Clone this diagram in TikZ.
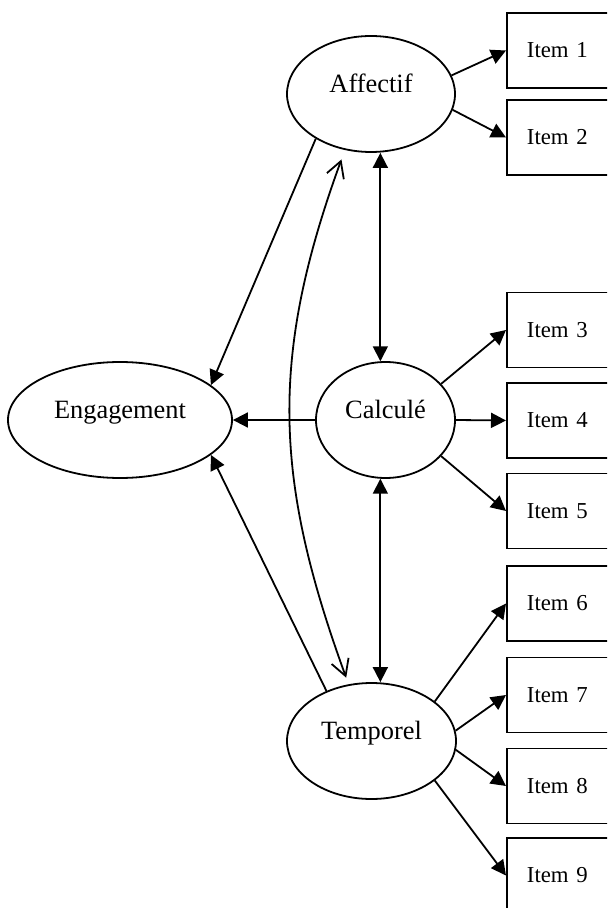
\documentclass[tikz,border=0pt]{standalone}
\usepackage{fontspec}
\setmainfont{Liberation Serif}
\usetikzlibrary{arrows.meta}
\usetikzlibrary{shapes.geometric}

\begin{document}
\begin{tikzpicture}[x=0.5pt,y=-0.5pt,line width=0.9pt,
  latent/.style={ellipse, draw, inner sep=0pt, minimum height=58pt,
    text height=9pt, text depth=10.5pt, font=\fontsize{13.2}{15}\selectfont},
  item/.style={rectangle, draw, anchor=west, minimum height=37.5pt,
    text width=40pt, inner xsep=10pt, align=left, font=\fontsize{11.4}{14}\selectfont},
  ->/.style={-{Triangle[length=7.5pt,width=7.5pt]}},
  both/.style={{Triangle[length=7.5pt,width=7.5pt]}-{Triangle[length=7.5pt,width=7.5pt]}},
  corr/.style={{Straight Barb[length=8pt,width=9pt]}-{Straight Barb[length=8pt,width=9pt]}}]
\useasboundingbox (0,0) rectangle (607,908);
\clip (0,0) rectangle (607,908);
\node[latent, minimum width=84pt] (aff) at (371,94){Affectif};
\node[latent, minimum width=69.5pt] (calc) at (385.5,420){Calculé};
\node[latent, minimum width=84.5pt] (temp) at (371.5,741){Temporel};
\node[latent, minimum width=112pt] (eng) at (120,420){Engagement};
\node[item] (i1) at (506,50.5){Item 1};
\node[item] (i2) at (506,137.5){Item 2};
\node[item] (i3) at (506,330){Item 3};
\node[item] (i4) at (506,420.5){Item 4};
\node[item] (i5) at (506,511){Item 5};
\node[item] (i6) at (506,603.5){Item 6};
\node[item] (i7) at (506,695){Item 7};
\node[item] (i8) at (506,786){Item 8};
\node[item] (i9) at (506,875.5){Item 9};
\draw[->] (aff.13)	--	(i1.west);
\draw[->] (aff.-11)	--	(i2.west);
\draw[->] (calc.33)	--	(i3.west);
\draw[->] (calc.east)	--	(i4.west);
\draw[->] (calc.-33)	--	(i5.west);
\draw[->] (temp.32)	--	(i6.west);
\draw[->] (temp.7)	--	(i7.west);
\draw[->] (temp.-6)	--	(i8.west);
\draw[->] (temp.-32)	--	(i9.west);
\draw[->] (aff.219)	--	(eng.21);
\draw[->] (calc.west)	--	(eng.east);
\draw[->] (temp.132)	--	(eng.-21);
\draw[both] (calc.95)	--	(calc.95 |- aff.south);
\draw[both] (calc.265)	--	(calc.265 |- temp.north);
\draw[corr, shorten <=5pt, shorten >=3.5pt] (aff.245) to[out=250,in=110,looseness=1.05] (temp.112);
\end{tikzpicture}
\end{document}
